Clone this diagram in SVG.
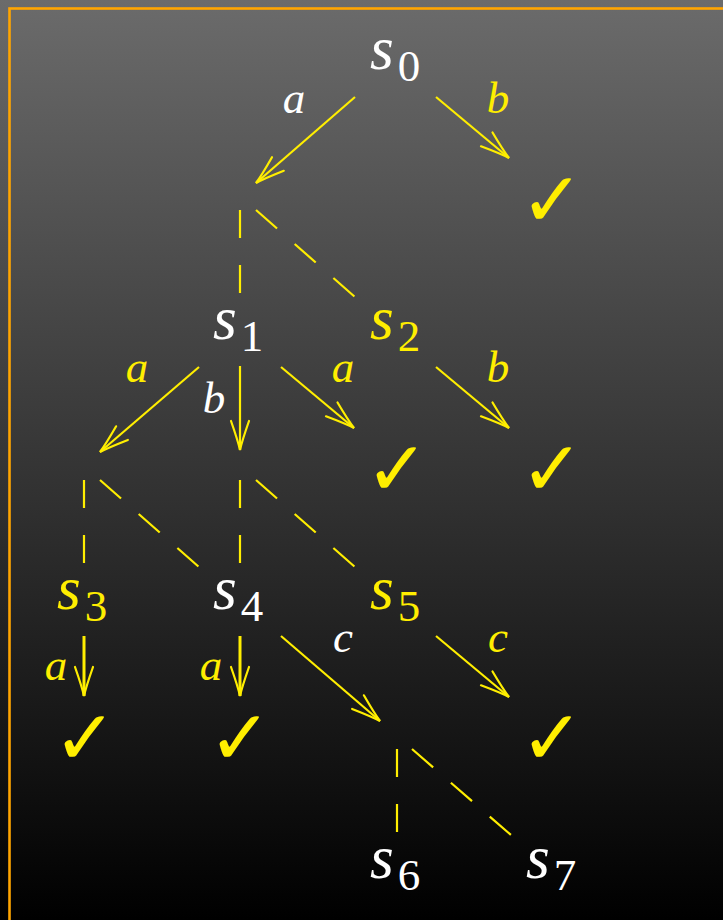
<svg xmlns="http://www.w3.org/2000/svg" width="723" height="920" viewBox="0 0 723 920">
<defs>
<linearGradient id="bg" x1="0" y1="0" x2="0" y2="1">
<stop offset="0" stop-color="#6b6b6b"/>
<stop offset="1" stop-color="#000000"/>
</linearGradient>
<marker id="to" markerUnits="userSpaceOnUse" orient="auto" refX="0" refY="0" viewBox="-32 -12 34 24" markerWidth="34" markerHeight="24" overflow="visible">
<path d="M-29,-9 Q-9,-2 0,0 Q-9,2 -29,9" fill="none" stroke="#ffee00" stroke-width="2.2" stroke-linecap="round"/>
</marker>
<style>
.st{font-family:"Liberation Serif","Times New Roman",serif;font-style:italic;font-size:61px}
.sub{font-family:"Liberation Serif","Times New Roman",serif;font-style:normal;font-size:45px}
.lb{font-family:"Liberation Serif","Times New Roman",serif;font-style:italic;font-size:45px;text-anchor:middle}
.w{fill:#ffffff}
.y{fill:#ffee00}
.arr{stroke:#ffee00;stroke-width:2.2;fill:none;marker-end:url(#to)}
.thick{stroke-width:3}
.dv{stroke:#ffee00;stroke-width:2.2;fill:none;stroke-dasharray:28 27}
.dd{stroke:#ffee00;stroke-width:2.2;fill:none;stroke-dasharray:28 23.5}
.ck{font-family:"DejaVu Sans",sans-serif;font-weight:bold;font-size:76px;text-anchor:middle;fill:#ffee00}
</style>
</defs>
<rect x="0" y="0" width="723" height="920" fill="url(#bg)"/>
<rect x="9.5" y="8.5" width="800" height="1000" fill="none" stroke="#ffa500" stroke-width="2.6"/>

<g id="connectors">
<line class="arr" x1="355" y1="97" x2="256" y2="183"/>
<line class="arr" x1="436" y1="97" x2="509" y2="158"/>
<line class="dv" x1="240" y1="210" x2="240" y2="297"/>
<line class="dd" x1="256" y1="210" x2="355" y2="297"/>
<line class="arr" x1="199" y1="367" x2="100" y2="452"/>
<line class="arr" x1="240" y1="366" x2="240" y2="450"/>
<line class="arr" x1="281" y1="367" x2="354" y2="428"/>
<line class="arr" x1="436" y1="367" x2="509" y2="428"/>
<line class="dv" x1="84" y1="480" x2="84" y2="567"/>
<line class="dd" x1="100" y1="480" x2="199" y2="567"/>
<line class="dv" x1="240" y1="480" x2="240" y2="567"/>
<line class="dd" x1="256" y1="480" x2="355" y2="567"/>
<line class="arr thick" x1="84" y1="636" x2="84" y2="696"/>
<line class="arr thick" x1="240" y1="636" x2="240" y2="696"/>
<line class="arr" x1="281" y1="636" x2="380" y2="721"/>
<line class="arr" x1="436" y1="636" x2="509" y2="697"/>
<line class="dv" x1="397" y1="749" x2="397" y2="835"/>
<line class="dd" x1="412" y1="749" x2="511" y2="835"/>
<text class="lb w" x="294" y="113">a</text>
<text class="lb y" x="498" y="113">b</text>
<text class="lb y" x="137" y="382">a</text>
<text class="lb w" x="214" y="413">b</text>
<text class="lb y" x="343" y="382">a</text>
<text class="lb y" x="498" y="382">b</text>
<text class="lb y" x="56" y="680">a</text>
<text class="lb y" x="211" y="680">a</text>
<text class="lb w" x="343" y="652">c</text>
<text class="lb y" x="498" y="652">c</text>
</g>

<g id="s0"><text class="st w" x="370" y="69">s<tspan class="sub" dx="4" dy="12">0</tspan></text></g>
<g id="s1"><text class="st w" x="213" y="339">s<tspan class="sub" dx="4" dy="12">1</tspan></text></g>
<g id="s2"><text class="st y" x="370" y="339">s<tspan class="sub" dx="4" dy="12">2</tspan></text></g>
<g id="s3"><text class="st y" x="57" y="609">s<tspan class="sub" dx="4" dy="12">3</tspan></text></g>
<g id="s4"><text class="st w" x="213" y="609">s<tspan class="sub" dx="4" dy="12">4</tspan></text></g>
<g id="s5"><text class="st y" x="370" y="609">s<tspan class="sub" dx="4" dy="12">5</tspan></text></g>
<g id="s6"><text class="st w" x="370" y="878">s<tspan class="sub" dx="4" dy="12">6</tspan></text></g>
<g id="s7"><text class="st w" x="526" y="878">s<tspan class="sub" dx="4" dy="12">7</tspan></text></g>

<g id="check1"><text class="ck" x="552" y="226">✓</text></g>
<g id="check2"><text class="ck" x="397" y="495">✓</text></g>
<g id="check3"><text class="ck" x="552" y="495">✓</text></g>
<g id="check4"><text class="ck" x="85" y="764">✓</text></g>
<g id="check5"><text class="ck" x="240" y="764">✓</text></g>
<g id="check6"><text class="ck" x="552" y="764">✓</text></g>
</svg>
